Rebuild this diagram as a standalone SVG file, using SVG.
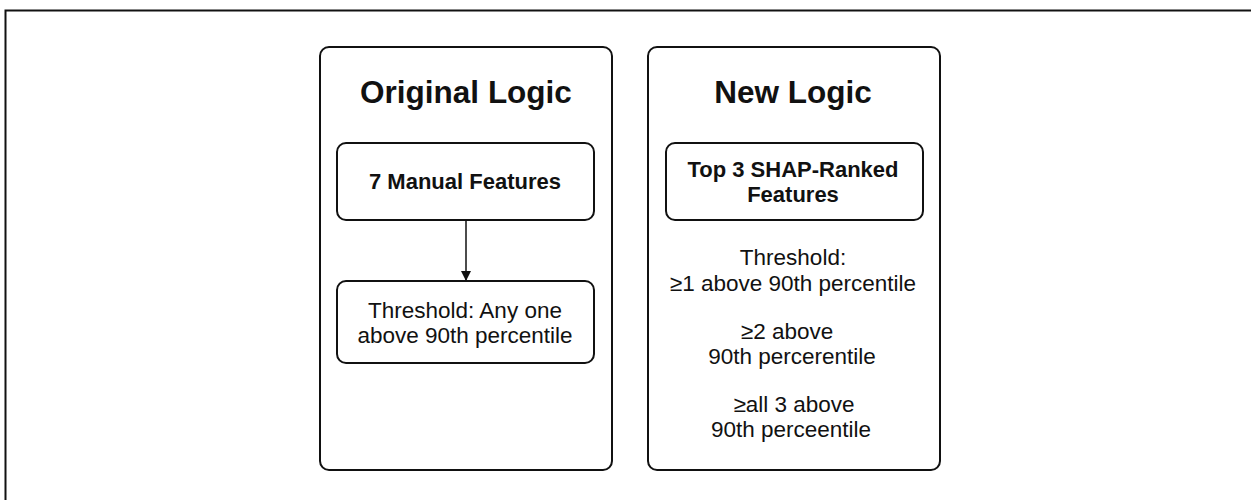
<svg xmlns="http://www.w3.org/2000/svg" width="1251" height="500" viewBox="0 0 1251 500">
<defs>
<style>
.frame{fill:none;stroke:#111;stroke-width:2}
.panel{fill:#fff;stroke:#111;stroke-width:2}
.box{fill:#fff;stroke:#111;stroke-width:2}
.title{font-family:"Liberation Sans",Arial,sans-serif;font-size:31.5px;font-weight:bold;fill:#111;text-anchor:middle}
.bold{font-family:"Liberation Sans",Arial,sans-serif;font-size:22px;font-weight:bold;fill:#111;text-anchor:middle}
.txt{font-family:"Liberation Sans",Arial,sans-serif;font-size:22.5px;fill:#111;text-anchor:middle}
.conn{stroke:#111;stroke-width:1.5;fill:none}
</style>
<marker id="arr" markerWidth="10" markerHeight="10" refX="9" refY="5" orient="auto" markerUnits="userSpaceOnUse">
<path d="M0,0 L10,5 L0,10 z" fill="#111"/>
</marker>
</defs>
<rect width="1251" height="500" fill="#fff"/>
<path class="frame" d="M5.5,510 L5.5,10.5 L1260,10.5"/>
<g id="original-logic">
<rect class="panel" x="320" y="47" width="292" height="423" rx="9"/>
<text class="title" x="466" y="103">Original Logic</text>
</g>
<g id="manual-features">
<rect class="box" x="337" y="143" width="257" height="77" rx="9"/>
<text class="bold" x="465" y="189">7 Manual Features</text>
</g>
<g id="threshold-original">
<rect class="box" x="337" y="281" width="257" height="82" rx="9"/>
<text class="txt" x="465" y="318">Threshold: Any one</text>
<text class="txt" x="465" y="343">above 90th percentile</text>
</g>
<g id="new-logic">
<rect class="panel" x="648" y="47" width="292" height="423" rx="9"/>
<text class="title" x="793" y="103">New Logic</text>
</g>
<g id="shap-features">
<rect class="box" x="666" y="143" width="257" height="77" rx="9"/>
<text class="bold" x="793" y="177">Top 3 SHAP-Ranked</text>
<text class="bold" x="793" y="202">Features</text>
</g>
<g id="threshold-1">
<text class="txt" x="793" y="265">Threshold:</text>
<text class="txt" x="793" y="291">≥1 above 90th percentile</text>
</g>
<g id="threshold-2">
<text class="txt" x="787" y="339">≥2 above</text>
<text class="txt" x="792" y="364">90th percerentile</text>
</g>
<g id="threshold-3">
<text class="txt" x="794" y="412">≥all 3 above</text>
<text class="txt" x="791" y="437">90th perceentile</text>
</g>
<g id="connectors">
<line class="conn" x1="466" y1="220" x2="466" y2="280" marker-end="url(#arr)"/>
</g>
</svg>
